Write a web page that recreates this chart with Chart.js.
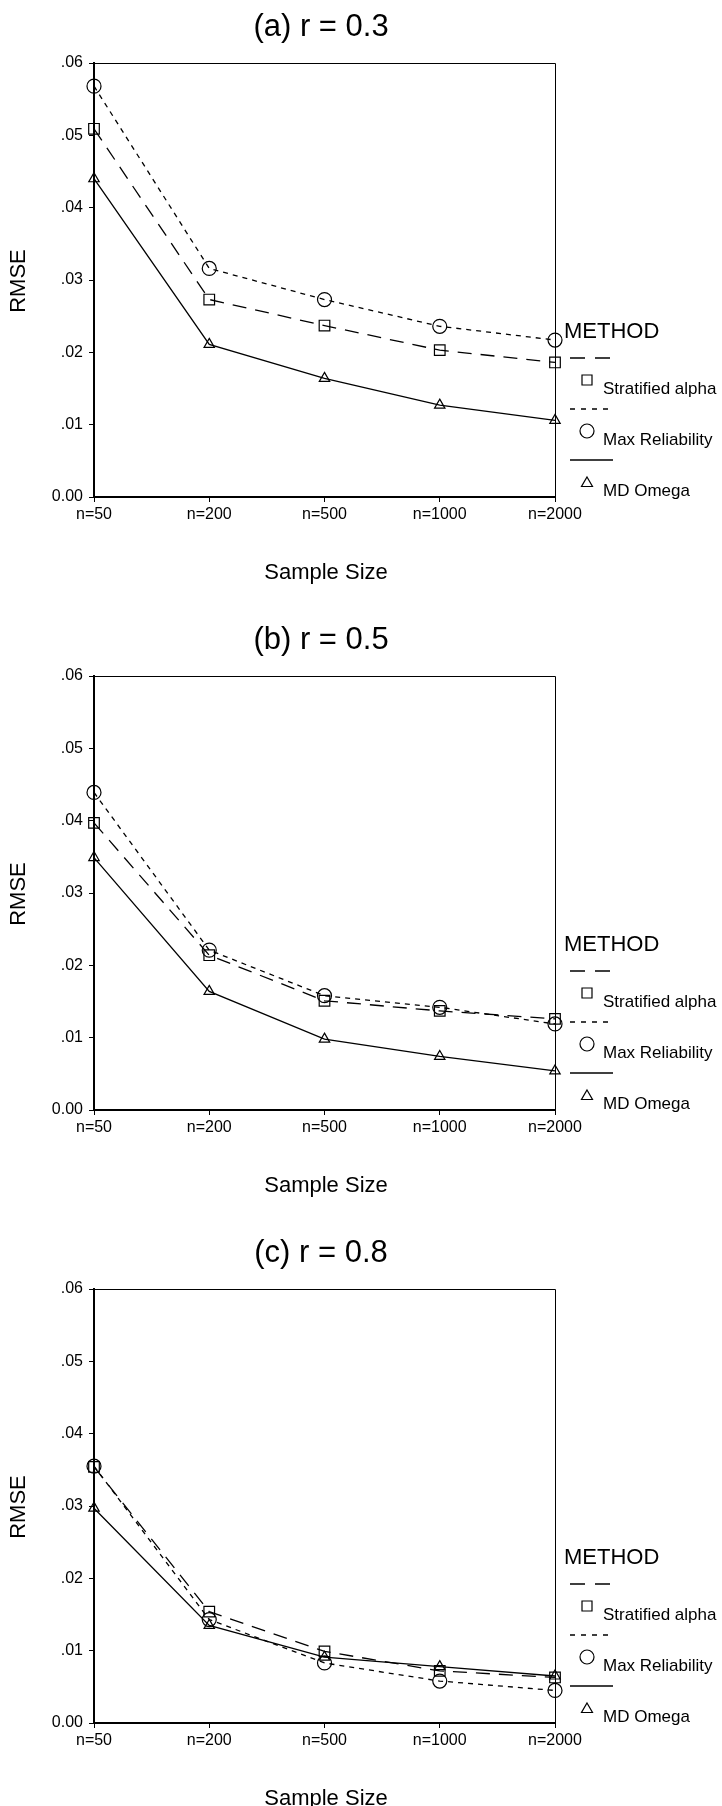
<!DOCTYPE html>
<html>
<head>
<meta charset="utf-8">
<script src="https://cdn.jsdelivr.net/npm/chart.js@4.4.0/dist/chart.umd.min.js"></script>
<style>
html,body{margin:0;padding:0;background:#fff;}
body{width:722px;height:1806px;position:relative;overflow:hidden;}
canvas{position:absolute;left:0;}
</style>
</head>
<body>
<canvas id="chartA" width="722" height="613" style="top:0px"></canvas>
<canvas id="chartB" width="722" height="613" style="top:613px"></canvas>
<canvas id="chartC" width="722" height="580" style="top:1226px"></canvas>
<script>
var sampleSizes = ['n=50', 'n=200', 'n=500', 'n=1000', 'n=2000'];
var yTickLabels = ['0.00', '.01', '.02', '.03', '.04', '.05', '.06'];
var methods = ['Stratified alpha', 'Max Reliability', 'MD Omega'];

// (a) r = 0.3
var stratA = [0.0509, 0.0273, 0.0237, 0.0203, 0.0186];
var maxRelA = [0.0568, 0.0316, 0.0273, 0.0236, 0.0217];
var omegaA = [0.0440, 0.0211, 0.0164, 0.0127, 0.0106];
// (b) r = 0.5
var stratB = [0.0397, 0.0214, 0.0151, 0.0137, 0.0126];
var maxRelB = [0.0439, 0.0221, 0.0158, 0.0142, 0.0119];
var omegaB = [0.0349, 0.0164, 0.0098, 0.0074, 0.0054];
// (c) r = 0.8
var stratC = [0.0354, 0.0154, 0.0099, 0.0072, 0.0063];
var maxRelC = [0.0355, 0.0143, 0.0083, 0.0058, 0.0045];
var omegaC = [0.0297, 0.0135, 0.0091, 0.0078, 0.0065];

var FONT = '"Liberation Sans", Arial, sans-serif';
var PLOT_BOTTOM = 497;

// frame, titles and the SPSS style legend
var panelText = {
    id: 'panelText',
    afterDraw: function (chart, args, opts) {
        var ctx = chart.ctx;
        var a = chart.chartArea;
        ctx.save();
        ctx.strokeStyle = '#000';
        ctx.lineWidth = 1;
        ctx.beginPath();
        ctx.moveTo(a.left, a.top + 0.5);
        ctx.lineTo(a.right + 0.5, a.top + 0.5);
        ctx.lineTo(a.right + 0.5, a.bottom);
        ctx.stroke();

        ctx.fillStyle = '#000';
        ctx.textBaseline = 'middle';
        ctx.textAlign = 'center';
        ctx.font = '31px ' + FONT;
        ctx.fillText(opts.title, 321, 27);
        ctx.font = '22px ' + FONT;
        ctx.fillText('Sample Size', 326, 573);
        ctx.save();
        ctx.translate(19, 281);
        ctx.rotate(-Math.PI / 2);
        ctx.fillText('RMSE', 0, 0);
        ctx.restore();

        // legend
        ctx.textAlign = 'left';
        ctx.font = '22px ' + FONT;
        ctx.fillText('METHOD', 564, 332);
        var dashes = [[15, 10], [5, 6], []];
        for (var i = 0; i < 3; i++) {
            var ly = 358 + i * 51;
            ctx.lineWidth = 1.3;
            ctx.setLineDash(dashes[i]);
            ctx.beginPath();
            ctx.moveTo(570, ly);
            ctx.lineTo(613, ly);
            ctx.stroke();
            ctx.setLineDash([]);
            var my = ly + 22;
            ctx.lineWidth = 1.2;
            ctx.beginPath();
            if (i == 0) {
                ctx.rect(582, my - 5, 10, 10);
            } else if (i == 1) {
                ctx.arc(587, my, 7, 0, Math.PI * 2);
            } else {
                ctx.moveTo(587, my - 5);
                ctx.lineTo(592.5, my + 4.5);
                ctx.lineTo(581.5, my + 4.5);
                ctx.closePath();
            }
            ctx.stroke();
            ctx.font = '17px ' + FONT;
            ctx.fillText(methods[i], 603, ly + 31);
        }
        ctx.restore();
    }
};

function makePanel(id, title, strat, maxRel, omega) {
    var canvas = document.querySelector(id);
    var h = canvas.height;
    return new Chart(canvas, {
        type: 'line',
        data: {
            labels: sampleSizes,
            datasets: [{
                label: methods[0],
                data: strat,
                borderColor: '#000',
                borderWidth: 1.3,
                borderDash: [14, 9],
                pointStyle: 'rect',
                pointRadius: 7.5,
                pointBorderWidth: 1.2,
                pointBorderColor: '#000',
                pointBackgroundColor: 'rgba(0,0,0,0)',
                fill: false,
                tension: 0,
                clip: false
            }, {
                label: methods[1],
                data: maxRel,
                borderColor: '#000',
                borderWidth: 1.3,
                borderDash: [5, 5],
                pointStyle: 'circle',
                pointRadius: 7,
                pointBorderWidth: 1.2,
                pointBorderColor: '#000',
                pointBackgroundColor: 'rgba(0,0,0,0)',
                fill: false,
                tension: 0,
                clip: false
            }, {
                label: methods[2],
                data: omega,
                borderColor: '#000',
                borderWidth: 1.3,
                pointStyle: 'triangle',
                pointRadius: 6,
                pointBorderWidth: 1.2,
                pointBorderColor: '#000',
                pointBackgroundColor: 'rgba(0,0,0,0)',
                fill: false,
                tension: 0,
                clip: false
            }]
        },
        options: {
            responsive: false,
            animation: false,
            layout: { padding: { top: 63, left: 0, right: 167, bottom: 0 } },
            plugins: {
                legend: { display: false },
                title: { display: false },
                tooltip: { enabled: false },
                panelText: { title: title }
            },
            scales: {
                x: {
                    type: 'category',
                    offset: false,
                    afterFit: function (s) { s.height = h - PLOT_BOTTOM; },
                    grid: { drawOnChartArea: false, drawTicks: true, tickLength: 5, color: '#000', lineWidth: 1 },
                    border: { display: true, color: '#000', width: 2 },
                    ticks: { color: '#000', font: { family: FONT, size: 16 }, padding: 3, maxRotation: 0, autoSkip: false }
                },
                y: {
                    min: 0,
                    max: 0.06,
                    afterFit: function (s) { s.width = 94; },
                    grid: { drawOnChartArea: false, drawTicks: true, tickLength: 5, color: '#000', lineWidth: 1 },
                    border: { display: true, color: '#000', width: 2 },
                    ticks: {
                        stepSize: 0.01,
                        color: '#000',
                        padding: 6,
                        font: { family: FONT, size: 16 },
                        callback: function (value, index) { return yTickLabels[index]; }
                    }
                }
            }
        },
        plugins: [panelText]
    });
}

makePanel('#chartA', '(a) r = 0.3', stratA, maxRelA, omegaA);
makePanel('#chartB', '(b) r = 0.5', stratB, maxRelB, omegaB);
makePanel('#chartC', '(c) r = 0.8', stratC, maxRelC, omegaC);
</script>
</body>
</html>
